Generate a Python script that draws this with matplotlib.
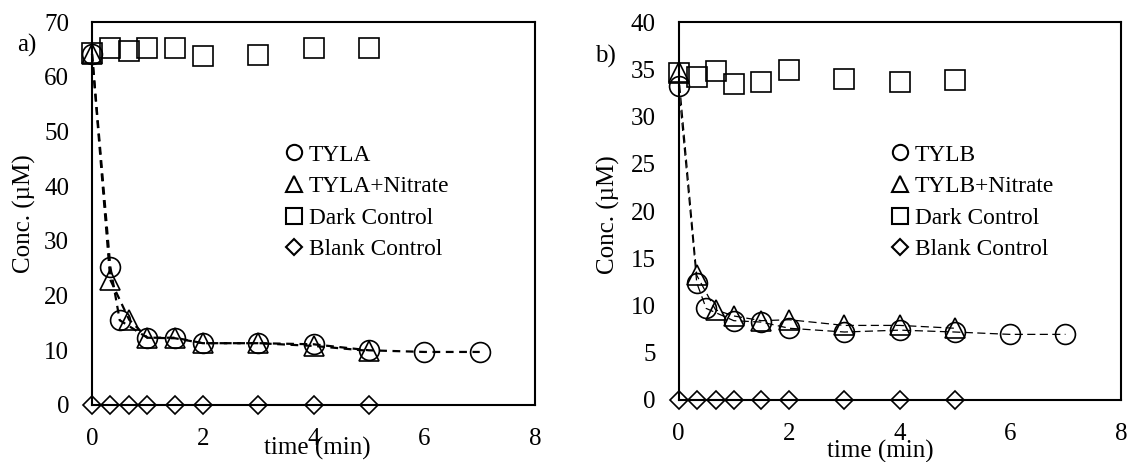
import matplotlib
matplotlib.use("Agg")
import matplotlib.pyplot as plt
from matplotlib.lines import Line2D

plt.rcParams['font.family'] = ['Liberation Serif', 'DejaVu Serif']

# ---- data ----
t_ctrl = [0, 0.33, 0.67, 1, 1.5, 2, 3, 4, 5]
t_main = [0, 0.33, 0.5, 1, 1.5, 2, 3, 4, 5, 6, 7]
t_nit = [0, 0.33, 0.67, 1, 1.5, 2, 3, 4, 5]

tyla = [64.2, 25.3, 15.5, 12.3, 12.3, 11.3, 11.3, 11.1, 10.0, 9.7, 9.7]
tyla_nit = [64.2, 22.9, 15.6, 12.3, 12.2, 11.3, 11.3, 10.8, 9.9]
dark_a = [64.3, 65.2, 64.7, 65.2, 65.2, 63.8, 64.0, 65.2, 65.2]
blank_a = [0, 0, 0, 0, 0, 0, 0, 0, 0]

tylb = [33.3, 12.4, 9.7, 8.4, 8.25, 7.6, 7.2, 7.4, 7.2, 6.95, 6.95]
tylb_nit = [34.7, 13.2, 9.55, 8.9, 8.4, 8.5, 7.9, 7.9, 7.6]
dark_b = [34.6, 34.2, 34.8, 33.5, 33.7, 34.9, 34.0, 33.7, 33.9]
blank_b = [0, 0, 0, 0, 0, 0, 0, 0, 0]

labels_a = ['TYLA', 'TYLA+Nitrate', 'Dark Control', 'Blank Control']
labels_b = ['TYLB', 'TYLB+Nitrate', 'Dark Control', 'Blank Control']

fig = plt.figure(figsize=(11.29, 4.62), dpi=100)
axA = fig.add_axes([0.0815, 0.1234, 0.3925, 0.8286])
axB = fig.add_axes([0.601, 0.1342, 0.3917, 0.8175])

mk = dict(mfc='none', mec='k', mew=1.2, clip_on=False)


def panel(ax, main, nit, dark, blank, labels, ymax, ystep, lw, dashes):
    ax.plot(t_ctrl, blank, ls='none', marker='D', ms=9.5, **mk, zorder=3)
    ax.plot(t_ctrl, dark, ls='none', marker='s', ms=13.8, **mk, zorder=3)
    ax.plot(t_nit, nit, ls='--', color='k', lw=lw, dashes=dashes,
            marker='^', ms=14, **mk, zorder=4)
    ax.plot(t_main, main, ls='--', color='k', lw=lw, dashes=dashes,
            marker='o', ms=14.3, **mk, zorder=4)
    ax.set_xlim(0, 8)
    ax.set_ylim(0, ymax)
    ax.set_xticks([0, 2, 4, 6, 8])
    ax.set_yticks(range(0, ymax + 1, ystep))
    ax.tick_params(length=0, labelsize=18, pad=16.5)
    for s in ax.spines.values():
        s.set_linewidth(1.5)
        s.set_zorder(2.5)
    ax.set_ylabel('Conc. (\u00b5M)', fontsize=18, va='center')
    ax.set_xlabel('time (min)', fontsize=18)
    handles = [
        Line2D([], [], ls='none', marker='o', ms=11, mfc='none', mec='k', mew=1.5),
        Line2D([], [], ls='none', marker='^', ms=11, mfc='none', mec='k', mew=1.5),
        Line2D([], [], ls='none', marker='s', ms=11, mfc='none', mec='k', mew=1.5),
        Line2D([], [], ls='none', marker='D', ms=8.3, mfc='none', mec='k', mew=1.5),
    ]
    return handles


hA = panel(axA, tyla, tyla_nit, dark_a, blank_a, labels_a, 70, 10, 1.6, (3.5, 2.5))
hB = panel(axB, tylb, tylb_nit, dark_b, blank_b, labels_b, 40, 5, 0.9, (6.5, 3.5))

axA.yaxis.set_label_coords(-0.153, 0.5)
axB.yaxis.set_label_coords(-0.158, 0.49)
axA.xaxis.set_label_coords(0.509, -0.083)
axB.xaxis.set_label_coords(0.456, -0.105)

axA.legend(hA, labels_a, loc='upper left', bbox_to_anchor=(0.438, 0.681),
           frameon=False, fontsize=16.8, handlelength=0.7, handletextpad=0.28,
           labelspacing=0.44, borderpad=0, borderaxespad=0)
axB.legend(hB, labels_b, loc='upper left', bbox_to_anchor=(0.483, 0.677),
           frameon=False, fontsize=16.8, handlelength=0.7, handletextpad=0.28,
           labelspacing=0.44, borderpad=0, borderaxespad=0)

fig.text(27 / 1129, 1 - 45 / 462, 'a)', ha='center', va='center', fontsize=18)
fig.text(605 / 1129, 1 - 56 / 462, 'b)', ha='center', va='center', fontsize=18)

fig.savefig('out.png', dpi=100)
